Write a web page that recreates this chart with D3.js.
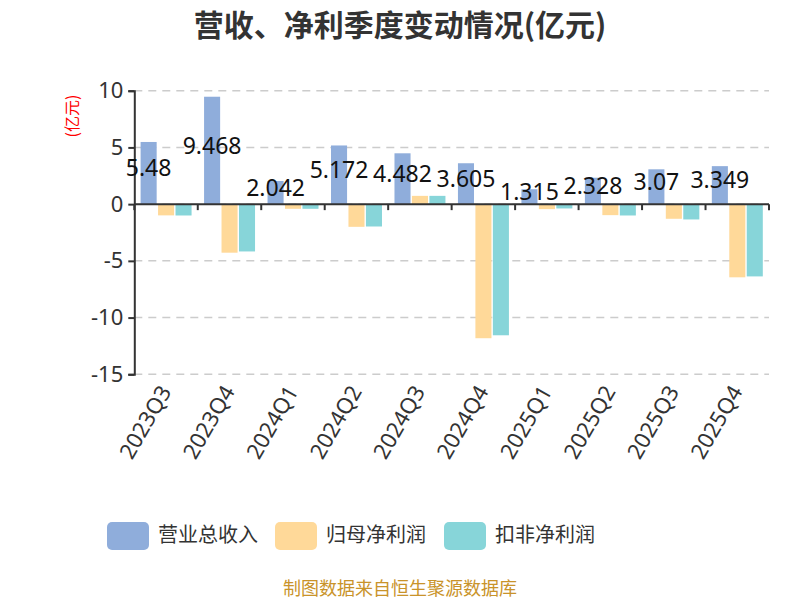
<!DOCTYPE html>
<html>
<head>
<meta charset="utf-8">
<script src="https://cdn.jsdelivr.net/npm/d3@7"></script>
<style>
  body { margin: 0; background: #fff; }
  svg { font-family: "Noto Sans CJK SC", "Noto Sans", sans-serif; }
</style>
</head>
<body>
<div id="container"></div>
<script>
/* DATA */
const quarters = ["2023Q3", "2023Q4", "2024Q1", "2024Q2", "2024Q3", "2024Q4", "2025Q1", "2025Q2", "2025Q3", "2025Q4"]
const seriesNames = ["营业总收入", "归母净利润", "扣非净利润"]
const revenue = [5.48, 9.468, 2.042, 5.172, 4.482, 3.605, 1.315, 2.328, 3.07, 3.349]
const netProfit = [-0.99, -4.28, -0.41, -2.0, 0.73, -11.82, -0.44, -0.97, -1.29, -6.45]
const deductedProfit = [-1.0, -4.17, -0.41, -1.97, 0.73, -11.56, -0.38, -1.0, -1.35, -6.37]
const yTicks = [-15, -10, -5, 0, 5, 10]

/* CONSTANTS */
const width = 800, height = 600
const margin = { top: 90.7, bottom: 225.7, left: 134.3, right: 31 }
const colors = ["#8FADDB", "#FFD999", "#87D5D9"]

const rows = quarters.map((q, i) => ({
  q,
  vals: [revenue[i], netProfit[i], deductedProfit[i]]
}))

const svg = d3.select("#container")
  .append("svg")
  .attr("width", width)
  .attr("height", height)

/* SCALES */
const xScale = d3.scaleBand()
  .domain(quarters)
  .range([margin.left, width - margin.right])

const x1 = d3.scaleBand()
  .domain(d3.range(3))
  .range([6.3, xScale.bandwidth() - 6.2])
  .paddingInner(0.08)

const yScale = d3.scaleLinear()
  .domain([-15, 10])
  .range([height - margin.bottom, margin.top])

/* TITLE */
svg.append("text")
  .attr("x", 400)
  .attr("y", 36)
  .attr("text-anchor", "middle")
  .style("font-size", "30px")
  .style("font-weight", "bold")
  .style("fill", "#333")
  .text("营收、净利季度变动情况(亿元)")

// y label
svg.append("text")
  .attr("transform", "translate(78,116) rotate(-90)")
  .attr("text-anchor", "middle")
  .style("font-size", "16px")
  .style("fill", "red")
  .text("(亿元)")

/* GRID */
svg.append("g")
  .selectAll("line")
  .data(yTicks)
  .join("line")
  .attr("x1", margin.left)
  .attr("x2", width - margin.right)
  .attr("y1", d => yScale(d))
  .attr("y2", d => yScale(d))
  .attr("stroke", "#ccc")
  .attr("stroke-width", 1.5)
  .attr("stroke-dasharray", "8,6")

/* BARS */
const groups = svg.append("g")
  .selectAll("g")
  .data(rows)
  .join("g")
  .attr("transform", d => `translate(${xScale(d.q)},0)`)

groups.selectAll("rect")
  .data(d => d.vals)
  .join("rect")
  .attr("x", (d, i) => x1(i))
  .attr("width", x1.bandwidth())
  .attr("y", d => yScale(Math.max(0, d)))
  .attr("height", d => Math.abs(yScale(d) - yScale(0)))
  .attr("fill", (d, i) => colors[i])

/* AXES */
const yAxis = d3.axisLeft(yScale)
  .tickValues(yTicks)
  .tickFormat(d => String(d))
  .tickSize(6)
  .tickPadding(5)
const gy = svg.append("g")
  .attr("transform", `translate(${margin.left},0)`)
  .call(yAxis)
gy.select(".domain").attr("stroke", "#333").attr("stroke-width", 2)
gy.selectAll(".tick line").attr("stroke", "#333").attr("stroke-width", 2)
gy.selectAll(".tick text")
  .style("font-size", "22px")
  .style("fill", "#333")
  .style("font-family", "'Noto Sans', sans-serif")

// x axis sits on zero
const gx = svg.append("g")
gx.append("line")
  .attr("x1", margin.left)
  .attr("x2", width - margin.right)
  .attr("y1", yScale(0))
  .attr("y2", yScale(0))
  .attr("stroke", "#333")
  .attr("stroke-width", 2)
gx.selectAll(".xt")
  .data(quarters.concat(["end"]))
  .join("line")
  .attr("class", "xt")
  .attr("x1", (d, i) => margin.left + i * xScale.bandwidth())
  .attr("x2", (d, i) => margin.left + i * xScale.bandwidth())
  .attr("y1", yScale(0))
  .attr("y2", yScale(0) + 6)
  .attr("stroke", "#333")
  .attr("stroke-width", 2)

// category labels
svg.append("g")
  .selectAll("text")
  .data(quarters)
  .join("text")
  .attr("transform", d => `translate(${xScale(d) + xScale.bandwidth() / 2 + 6},${height - margin.bottom + 17}) rotate(-60)`)
  .attr("text-anchor", "end")
  .style("font-size", "22px")
  .style("fill", "#333")
  .style("font-family", "'Noto Sans', sans-serif")
  .text(d => d)

/* VALUE LABELS */
svg.append("g")
  .selectAll("text")
  .data(rows)
  .join("text")
  .attr("x", d => xScale(d.q) + x1(0) + x1.bandwidth() / 2)
  .attr("y", d => (yScale(d.vals[0]) + yScale(0)) / 2 - 3)
  .attr("text-anchor", "middle")
  .attr("dominant-baseline", "middle")
  .style("font-size", "23px")
  .style("fill", "#111")
  .style("font-family", "'Noto Sans', sans-serif")
  .text(d => d.vals[0])

/* LEGEND */
const legendX = [107, 275, 444]
const legend = svg.append("g")
  .selectAll("g")
  .data(seriesNames)
  .join("g")
  .attr("transform", (d, i) => `translate(${legendX[i]},522)`)
legend.append("rect")
  .attr("width", 42)
  .attr("height", 28)
  .attr("rx", 5)
  .attr("fill", (d, i) => colors[i])
legend.append("text")
  .attr("x", 51)
  .attr("y", 15)
  .attr("dominant-baseline", "middle")
  .style("font-size", "20px")
  .style("fill", "#333")
  .text(d => d)

/* SOURCE */
svg.append("text")
  .attr("x", 400)
  .attr("y", 595)
  .attr("text-anchor", "middle")
  .style("font-size", "18px")
  .style("fill", "#C9932A")
  .text("制图数据来自恒生聚源数据库")
</script>
</body>
</html>
